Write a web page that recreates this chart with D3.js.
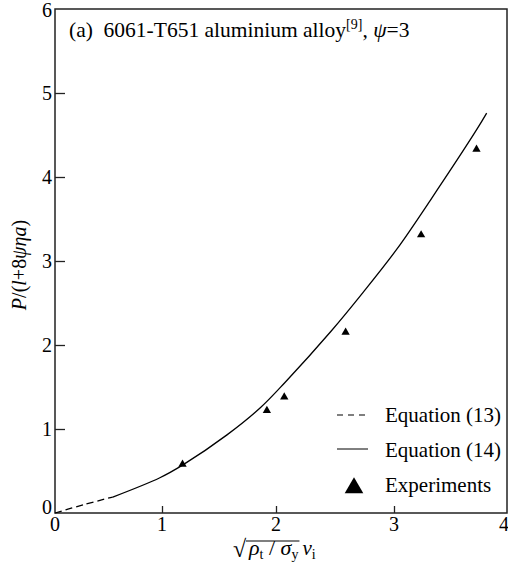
<!DOCTYPE html>
<html><head><meta charset="utf-8">
<script src="https://d3js.org/d3.v7.min.js"></script>
</head><body style="margin:0">
<script>
// values
var xTicks = [0, 1, 2, 3, 4];
var yTicks = [0, 1, 2, 3, 4, 5, 6];

var eq13X = [0, 0.27, 0.54];
var eq13Y = [0, 0.10, 0.19];

var eq14X = [0.54, 0.98, 1.18, 1.57, 1.86, 2.08, 2.47, 2.74, 3.03, 3.32, 3.73, 3.82];
var eq14Y = [0.19, 0.42, 0.57, 0.93, 1.25, 1.56, 2.17, 2.63, 3.15, 3.72, 4.56, 4.76];

var expX = [1.18, 1.92, 2.07, 2.59, 3.24, 3.73];
var expY = [0.58, 1.22, 1.38, 2.15, 3.31, 4.33];

var legendLabels = ["Equation (13)", "Equation (14)", "Experiments"];

var fam = "'Liberation Serif', monospace";

var width = 508, height = 571;
var svg = d3.select("body").append("svg")
    .attr("width", width).attr("height", height);

// the scanned figure's x ticks are not evenly spaced
var x = d3.scaleLinear().domain(xTicks).range([55, 162, 276, 394, 507]);
var y = d3.scaleLinear().domain([0, 6]).range([513, 9]);

// frame
svg.append("rect")
    .attr("x", x(0)).attr("y", y(6))
    .attr("width", x(4) - x(0)).attr("height", y(0) - y(6))
    .attr("fill", "none").attr("stroke", "#222").attr("stroke-width", 1.5);

// x axis, ticks pointing in
var xAxis = svg.append("g")
    .attr("transform", "translate(0," + y(0) + ")")
    .call(d3.axisTop(x).tickValues(xTicks).tickSize(7).tickFormat(""));
xAxis.select(".domain").remove();
xAxis.selectAll("line").attr("stroke", "#222").attr("stroke-width", 1.3);
xAxis.selectAll("line").filter(d => d === 0 || d === 4).remove();

svg.selectAll("text.xt").data(xTicks).join("text")
    .attr("class", "xt")
    .attr("x", d => d === 4 ? x(d) - 3 : x(d)).attr("y", y(0) + 18)
    .attr("text-anchor", "middle").attr("font-size", 20)
    .style("font-family", fam)
    .text(d => d);

// y axis, ticks pointing in
var yAxis = svg.append("g")
    .attr("transform", "translate(" + x(0) + ",0)")
    .call(d3.axisRight(y).tickValues(yTicks).tickSize(10).tickFormat(""));
yAxis.select(".domain").remove();
yAxis.selectAll("line").attr("stroke", "#222").attr("stroke-width", 1.3);
yAxis.selectAll("line").filter(d => d === 0 || d === 6).remove();

svg.selectAll("text.yt").data(yTicks).join("text")
    .attr("class", "yt")
    .attr("x", x(0) - 3).attr("y", d => y(d) + (d === 0 ? 1 : d === 6 ? 8 : 7))
    .attr("text-anchor", "end").attr("font-size", 20)
    .style("font-family", fam)
    .text(d => d);

// curves
var line = d3.line().x(d => x(d[0])).y(d => y(d[1])).curve(d3.curveCatmullRom);

svg.append("path")
    .datum(d3.zip(eq13X, eq13Y))
    .attr("d", line)
    .attr("fill", "none").attr("stroke", "#000").attr("stroke-width", 1.3)
    .attr("stroke-dasharray", "7,4");

svg.append("path")
    .datum(d3.zip(eq14X, eq14Y))
    .attr("d", line)
    .attr("fill", "none").attr("stroke", "#000").attr("stroke-width", 1.3);

// experiments
var tri = d3.symbol().type(d3.symbolTriangle);
svg.append("g").selectAll("path").data(d3.zip(expX, expY)).join("path")
    .attr("d", tri.size(30)())
    .attr("transform", d => "translate(" + x(d[0]) + "," + y(d[1]) + ")")
    .attr("fill", "#000");

// legend
svg.append("line").attr("x1", 337).attr("x2", 368).attr("y1", 415).attr("y2", 415)
    .attr("stroke", "#000").attr("stroke-width", 1.2).attr("stroke-dasharray", "6,5");
svg.append("line").attr("x1", 337).attr("x2", 368).attr("y1", 449).attr("y2", 449)
    .attr("stroke", "#000").attr("stroke-width", 1);
svg.append("path").attr("d", tri.size(150)())
    .attr("transform", "translate(354,488)").attr("fill", "#000");
svg.selectAll("text.lg").data(legendLabels).join("text")
    .attr("class", "lg")
    .attr("x", 385).attr("y", (d, i) => 422 + i * 35)
    .attr("font-size", 21)
    .style("font-family", fam)
    .text(d => d);

// title
var title = svg.append("text").attr("x", 69).attr("y", 37).attr("font-size", 21.5)
    .style("font-family", fam)
    .style("white-space", "pre");
title.append("tspan").text("(a)  6061-T651 aluminium alloy");
title.append("tspan").attr("font-size", 14).attr("dy", -8).text("[9]");
title.append("tspan").attr("dy", 8).text(", ");
title.append("tspan").attr("font-style", "italic").text("ψ");
title.append("tspan").text("=3");

// y label
var yl = svg.append("text")
    .attr("transform", "translate(26,265) rotate(-90)")
    .attr("text-anchor", "middle").attr("font-size", 20)
    .style("font-family", fam);
yl.append("tspan").attr("font-style", "italic").text("P");
yl.append("tspan").text("/(");
yl.append("tspan").attr("font-style", "italic").text("l");
yl.append("tspan").text("+8");
yl.append("tspan").attr("font-style", "italic").text("ψη");
yl.append("tspan").attr("font-style", "italic").text("a");
yl.append("tspan").text(")");

// x label: sqrt(rho_t / sigma_y) nu_i
svg.append("text").attr("x", 233).attr("y", 557).attr("font-size", 24)
    .style("font-family", fam).text("√");
var inner = svg.append("text").attr("x", 249).attr("y", 555).attr("font-size", 22)
    .style("font-family", fam).style("white-space", "pre");
inner.append("tspan").attr("font-style", "italic").text("ρ");
inner.append("tspan").attr("font-size", 14).attr("dy", 4).text("t");
inner.append("tspan").attr("dy", -4).text(" / ");
inner.append("tspan").attr("font-style", "italic").text("σ");
inner.append("tspan").attr("font-size", 14).attr("dy", 4).text("y");

var innerEnd = 249 + inner.node().getComputedTextLength();
svg.append("line").attr("x1", 246).attr("x2", innerEnd + 1).attr("y1", 541).attr("y2", 541)
    .attr("stroke", "#000").attr("stroke-width", 1.2);
var nu = svg.append("text").attr("x", innerEnd + 4).attr("y", 555).attr("font-size", 21)
    .style("font-family", fam);
nu.append("tspan").attr("font-style", "italic").text("ν");
nu.append("tspan").attr("font-size", 14).attr("dy", 4).text("i");
</script>
</body></html>
